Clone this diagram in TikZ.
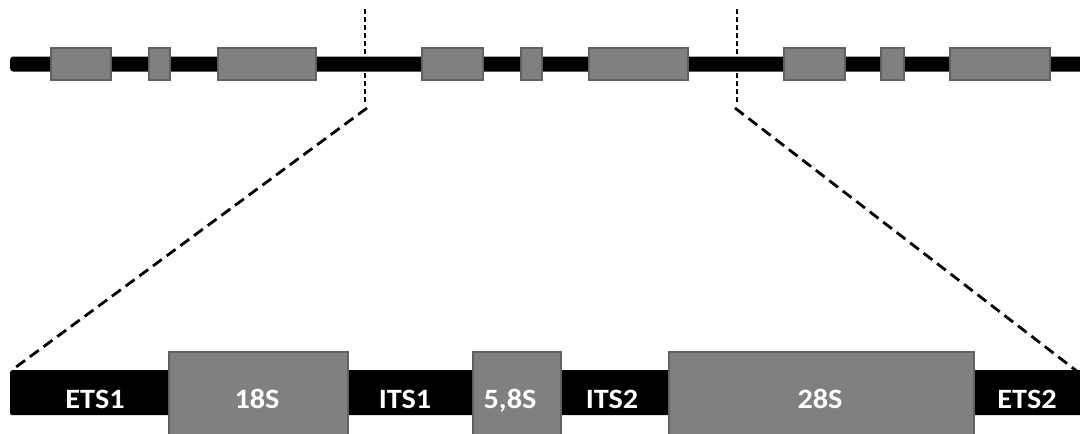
\documentclass[tikz,border=0pt]{standalone}
\usepackage{fontspec}
\setmainfont{Carlito}
\begin{document}
\begin{tikzpicture}[x=1pt,y=-1pt,
  gene/.style={draw=black!62, line width=1.5pt, fill=black!50, inner sep=0pt},
  guide/.style={black, line width=1.6pt, dash pattern=on 5pt off 3pt},
  zoomline/.style={black, line width=2.8pt, dash pattern=on 11pt off 6pt},
  lbl/.style={text=white, font=\fontsize{28}{28}\selectfont\bfseries, inner sep=0pt, anchor=base, xscale=1.08}
]
\useasboundingbox (0,0) rectangle (1080,434);
\clip (0,0) rectangle (1080,434);
% top chromosome bar
\node[fill=black, inner sep=0pt, minimum width=1075pt, minimum height=15pt, anchor=west, rounded corners=3pt] (tb) at (10,64) {};
% top gene boxes
\foreach \n/\a/\b in {g1/51/111, g2/149/170, g3/218/316, g4/422/483, g5/521/542, g6/589/688, g7/784/845, g8/881/904, g9/950/1050}{
  \node[gene, minimum width={\b-\a}, minimum height=32pt] (\n) at ({(\a+\b)/2},64) {};
}
% vertical guides
\coordinate (v1a) at (365,9);
\coordinate (v1b) at (365,104);
\coordinate (v2a) at (737,9);
\coordinate (v2b) at (737,104);
\draw[guide] (v1a) -- (v1b);
\draw[guide] (v2a) -- (v2b);
% bottom bar
\node[fill=black, inner sep=0pt, minimum width=1075pt, minimum height=45pt, anchor=north west, rounded corners=2pt] (bb) at (10,370) {};
% zoom lines
\coordinate (d1a) at (367,108);
\coordinate (d2a) at (735,108);
\coordinate (d2b) at (1078,372);
\draw[zoomline] (d1a) -- ([xshift=2pt]bb.north west);
\draw[zoomline] (d2a) -- (d2b);
% bottom gene boxes
\node[gene, minimum width=179pt, minimum height=90pt, anchor=north west] (s18) at (168,351) {};
\node[gene, minimum width=88pt, minimum height=90pt, anchor=north west] (s58) at (472,351) {};
\node[gene, minimum width=305pt, minimum height=90pt, anchor=north west] (s28) at (668,351) {};
% labels
\node[lbl] (ets1) at (95,408) {ETS1};
\node[lbl] (l18) at (257,408) {18S};
\node[lbl] (its1) at (405,408) {ITS1};
\node[lbl] (l58) at (510,408) {5,8S};
\node[lbl] (its2) at (612,408) {ITS2};
\node[lbl] (l28) at (820,408) {28S};
\node[lbl] (ets2) at (1027,408) {ETS2};
\end{tikzpicture}
\end{document}
